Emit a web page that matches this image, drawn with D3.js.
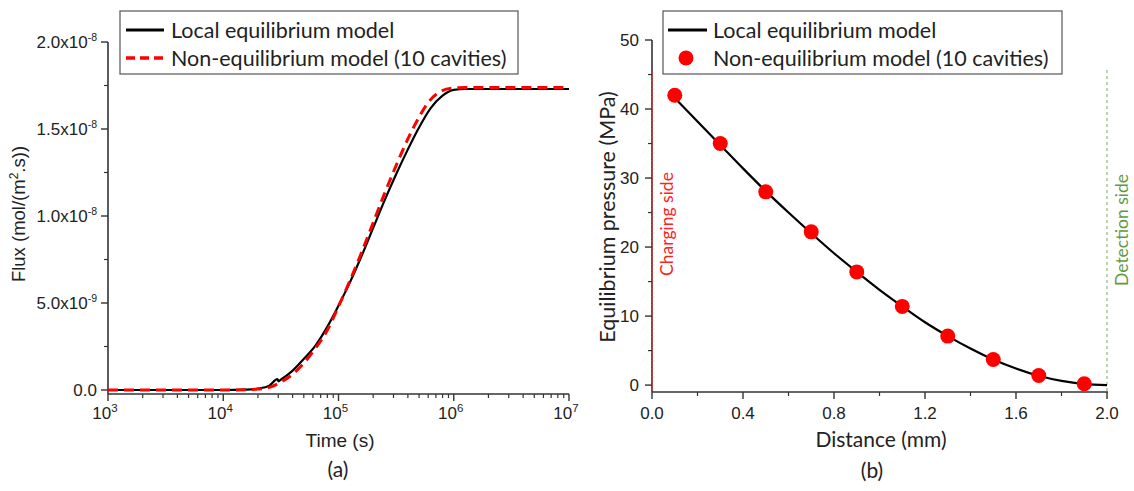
<!DOCTYPE html>
<html><head><meta charset="utf-8">
<script src="https://cdn.jsdelivr.net/npm/d3@7"></script>
<style>
body{margin:0;background:#fff;}
svg{display:block;}
text{fill:#222;}
</style></head><body>
<svg id="c" width="1134" height="491"></svg>
<script>
// ---------- Panel (a) data ----------
const timeLog = [3.0,3.5,4.0,4.2,4.3,4.4,4.47,4.48,4.5,4.6,4.7,4.8,4.9,5.0,5.1,5.2,5.3,5.4,5.5,5.6,5.7,5.8,5.9,6.0,6.1,6.5,7.0];
const fluxLocal = [0,0,0,0.02,0.08,0.25,0.62,0.5,0.6,1.1,1.8,2.55,3.6,4.85,6.2,7.7,9.3,10.9,12.4,13.8,15.1,16.2,16.9,17.25,17.3,17.3,17.3]; // x1e-9
const timeLogNE = [3.0,3.5,4.0,4.2,4.3,4.4,4.5,4.6,4.7,4.8,4.9,5.0,5.1,5.2,5.3,5.4,5.5,5.6,5.7,5.8,5.9,6.0,6.1,6.5,7.0];
const fluxNonEq = [0,0,0,0.02,0.05,0.15,0.45,0.9,1.55,2.4,3.4,4.8,6.3,7.9,9.6,11.3,12.9,14.4,15.7,16.7,17.2,17.35,17.38,17.38,17.38]; // x1e-9
const fluxTicks = [0,5e-9,1e-8,1.5e-8,2e-8];
const fluxTickLabels = [["0.0",""],["5.0x10","-9"],["1.0x10","-8"],["1.5x10","-8"],["2.0x10","-8"]];
const timeTicks = [1e3,1e4,1e5,1e6,1e7];
const timeTickExp = ["3","4","5","6","7"];

// ---------- Panel (b) data ----------
const distLine = [0.1,0.2,0.3,0.4,0.5,0.6,0.7,0.8,0.9,1.0,1.1,1.2,1.3,1.4,1.5,1.6,1.7,1.8,1.9,2.0];
const pressLine = [41.6,38.2,34.8,31.4,28.1,25.0,22.0,19.1,16.4,13.8,11.4,9.1,7.1,5.3,3.7,2.4,1.35,0.6,0.15,0.0];
const distPts = [0.1,0.3,0.5,0.7,0.9,1.1,1.3,1.5,1.7,1.9];
const pressPts = [42.0,35.0,28.0,22.2,16.4,11.4,7.1,3.7,1.4,0.2];
const distTicks = [0.0,0.4,0.8,1.2,1.6,2.0];
const distTickLabels = ["0.0","0.4","0.8","1.2","1.6","2.0"];
const pressTicks = [0,10,20,30,40,50];

const legendLabels = ["Local equilibrium model","Non-equilibrium model (10 cavities)"];

const svg = d3.select("#c");
const AX = "#333";
const CAL = "Lato, 'Open Sans', sans-serif";
const ARI = "'Liberation Sans', Arial, sans-serif";
const TICKFS = 17, LEGFS = 21.5;

// ================= Panel (a) =================
const xa = d3.scaleLog().domain([1e3,1e7]).range([108,569]);
const ya = d3.scaleLinear().domain([-0.23e-9,2e-8]).range([394,42]);
const ga = svg.append("g");

const minorX = [];
for (let e=3;e<7;e++) for (let m=2;m<=9;m++) minorX.push(m*Math.pow(10,e));
ga.selectAll(".mx").data(minorX).join("line")
  .attr("x1",d=>xa(d)).attr("x2",d=>xa(d)).attr("y1",394).attr("y2",398)
  .attr("stroke",AX).attr("stroke-width",1.2);
ga.selectAll(".Mx").data(timeTicks).join("line")
  .attr("x1",d=>xa(d)).attr("x2",d=>xa(d)).attr("y1",394).attr("y2",401)
  .attr("stroke",AX).attr("stroke-width",1.4);
const minorYa = [2.5e-9,7.5e-9,1.25e-8,1.75e-8];
ga.selectAll(".my").data(minorYa).join("line")
  .attr("x1",104).attr("x2",108).attr("y1",d=>ya(d)).attr("y2",d=>ya(d))
  .attr("stroke",AX).attr("stroke-width",1.2);
ga.selectAll(".My").data(fluxTicks).join("line")
  .attr("x1",101).attr("x2",108).attr("y1",d=>ya(d)).attr("y2",d=>ya(d))
  .attr("stroke",AX).attr("stroke-width",1.4);
ga.append("line").attr("x1",108).attr("x2",108).attr("y1",ya(2e-8)).attr("y2",394).attr("stroke",AX).attr("stroke-width",1.6);
ga.append("line").attr("x1",108).attr("x2",569).attr("y1",394).attr("y2",394).attr("stroke",AX).attr("stroke-width",1.6);

timeTicks.forEach((t,i)=>{
  const tx = ga.append("text").attr("x",xa(t)-3).attr("y",419).attr("text-anchor","middle")
    .attr("font-family",ARI).attr("font-size",TICKFS);
  tx.append("tspan").text("10");
  tx.append("tspan").attr("dy",-7).attr("font-size",11.5).text(timeTickExp[i]);
});
fluxTicks.forEach((v,i)=>{
  const [base,exp] = fluxTickLabels[i];
  const tx = ga.append("text").attr("x",97).attr("y",ya(v)+6).attr("text-anchor","end")
    .attr("font-family",ARI).attr("font-size",TICKFS);
  tx.append("tspan").text(base);
  if (exp) tx.append("tspan").attr("dy",-7).attr("font-size",10.5).text(exp);
});

const lineA = d3.line().x(d=>xa(Math.pow(10,d[0]))).y(d=>ya(d[1]*1e-9)).curve(d3.curveMonotoneX);
ga.append("path").datum(timeLog.map((t,i)=>[t,fluxLocal[i]])).attr("d",lineA)
  .attr("fill","none").attr("stroke","#000").attr("stroke-width",2.2);
ga.append("path").datum(timeLogNE.map((t,i)=>[t,fluxNonEq[i]])).attr("d",lineA)
  .attr("fill","none").attr("stroke","#f00").attr("stroke-width",3).attr("stroke-dasharray","10,6");

const fa = ga.append("text").attr("transform","translate(25,214) rotate(-90)").attr("text-anchor","middle")
  .attr("font-family",ARI).attr("font-size",18.5);
fa.append("tspan").text("Flux (mol/(m");
fa.append("tspan").attr("dy",-7).attr("font-size",12).text("2");
fa.append("tspan").attr("dy",7).text(".s))");
ga.append("text").attr("x",340).attr("y",447).attr("text-anchor","middle").attr("font-family",ARI).attr("font-size",19).text("Time (s)");
ga.append("text").attr("x",338).attr("y",477).attr("text-anchor","middle").attr("font-family",CAL).attr("font-size",21).text("(a)");

ga.append("rect").attr("x",120).attr("y",11).attr("width",398).attr("height",63).attr("fill","#fff").attr("stroke","#555").attr("stroke-width",1.2);
ga.append("line").attr("x1",126).attr("x2",164).attr("y1",30).attr("y2",30).attr("stroke","#000").attr("stroke-width",3);
ga.append("line").attr("x1",126).attr("x2",164).attr("y1",58).attr("y2",58).attr("stroke","#f00").attr("stroke-width",3.5).attr("stroke-dasharray","9,5");
ga.append("text").attr("x",171).attr("y",37.5).attr("font-family",CAL).attr("font-size",LEGFS).text(legendLabels[0]);
ga.append("text").attr("x",171).attr("y",65.5).attr("font-family",CAL).attr("font-size",LEGFS).text(legendLabels[1]);

// ================= Panel (b) =================
const xb = d3.scaleLinear().domain([0,2]).range([652,1107]);
const yb = d3.scaleLinear().domain([-1,50]).range([392,40]);
const gb = svg.append("g");

const minorXb = [0.2,0.6,1.0,1.4,1.8];
gb.selectAll(".mx").data(minorXb).join("line")
  .attr("x1",d=>xb(d)).attr("x2",d=>xb(d)).attr("y1",392).attr("y2",396).attr("stroke",AX).attr("stroke-width",1.2);
gb.selectAll(".Mx").data(distTicks).join("line")
  .attr("x1",d=>xb(d)).attr("x2",d=>xb(d)).attr("y1",392).attr("y2",399).attr("stroke",AX).attr("stroke-width",1.4);
const minorYb = [5,15,25,35,45];
gb.selectAll(".my").data(minorYb).join("line")
  .attr("x1",648).attr("x2",652).attr("y1",d=>yb(d)).attr("y2",d=>yb(d)).attr("stroke",AX).attr("stroke-width",1.2);
gb.selectAll(".My").data(pressTicks).join("line")
  .attr("x1",645).attr("x2",652).attr("y1",d=>yb(d)).attr("y2",d=>yb(d)).attr("stroke",AX).attr("stroke-width",1.4);
gb.append("line").attr("x1",652).attr("x2",652).attr("y1",yb(50)).attr("y2",392).attr("stroke",AX).attr("stroke-width",1.6);
gb.append("line").attr("x1",652).attr("x2",1108).attr("y1",392).attr("y2",392).attr("stroke",AX).attr("stroke-width",1.6);

gb.selectAll(".xl").data(distTicks).join("text")
  .attr("x",d=>xb(d)).attr("y",419).attr("text-anchor","middle").attr("font-family",ARI).attr("font-size",TICKFS)
  .text((d,i)=>distTickLabels[i]);
gb.selectAll(".yl").data(pressTicks).join("text")
  .attr("x",639).attr("y",d=>yb(d)+6).attr("text-anchor","end").attr("font-family",ARI).attr("font-size",TICKFS)
  .text(d=>d);

gb.append("line").attr("x1",xb(0)+0.5).attr("x2",xb(0)+0.5).attr("y1",72).attr("y2",392)
  .attr("stroke","#e33").attr("stroke-width",1).attr("stroke-dasharray","2,2");
gb.append("line").attr("x1",xb(2)).attr("x2",xb(2)).attr("y1",70).attr("y2",392)
  .attr("stroke","#8fb878").attr("stroke-width",1.2).attr("stroke-dasharray","3,3");
gb.append("text").attr("transform","translate(673,224) rotate(-90)").attr("text-anchor","middle")
  .attr("font-family",CAL).attr("font-size",17.5).style("fill","#f22").text("Charging side");
gb.append("text").attr("transform","translate(1128,230) rotate(-90)").attr("text-anchor","middle")
  .attr("font-family",CAL).attr("font-size",17.5).style("fill","#5f9a3f").text("Detection side");

const lineB = d3.line().x(d=>xb(d[0])).y(d=>yb(d[1])).curve(d3.curveMonotoneX);
gb.append("path").datum(distLine.map((d,i)=>[d,pressLine[i]])).attr("d",lineB)
  .attr("fill","none").attr("stroke","#000").attr("stroke-width",2.2);
gb.selectAll(".pt").data(distPts.map((d,i)=>[d,pressPts[i]])).join("circle")
  .attr("cx",d=>xb(d[0])).attr("cy",d=>yb(d[1])).attr("r",7.5).attr("fill","#f00");

gb.append("text").attr("transform","translate(615,217) rotate(-90)").attr("text-anchor","middle")
  .attr("font-family",CAL).attr("font-size",21.5).text("Equilibrium pressure (MPa)");
gb.append("text").attr("x",881).attr("y",447).attr("text-anchor","middle").attr("font-family",CAL).attr("font-size",21).text("Distance (mm)");
gb.append("text").attr("x",872).attr("y",478).attr("text-anchor","middle").attr("font-family",CAL).attr("font-size",21).text("(b)");

gb.append("rect").attr("x",663).attr("y",11).attr("width",399).attr("height",63).attr("fill","#fff").attr("stroke","#555").attr("stroke-width",1.2);
gb.append("line").attr("x1",668).attr("x2",707).attr("y1",30).attr("y2",30).attr("stroke","#000").attr("stroke-width",3);
gb.append("circle").attr("cx",686).attr("cy",58).attr("r",7.5).attr("fill","#f00");
gb.append("text").attr("x",713).attr("y",37.5).attr("font-family",CAL).attr("font-size",LEGFS).text(legendLabels[0]);
gb.append("text").attr("x",713).attr("y",65.5).attr("font-family",CAL).attr("font-size",LEGFS).text(legendLabels[1]);
</script>
</body></html>
